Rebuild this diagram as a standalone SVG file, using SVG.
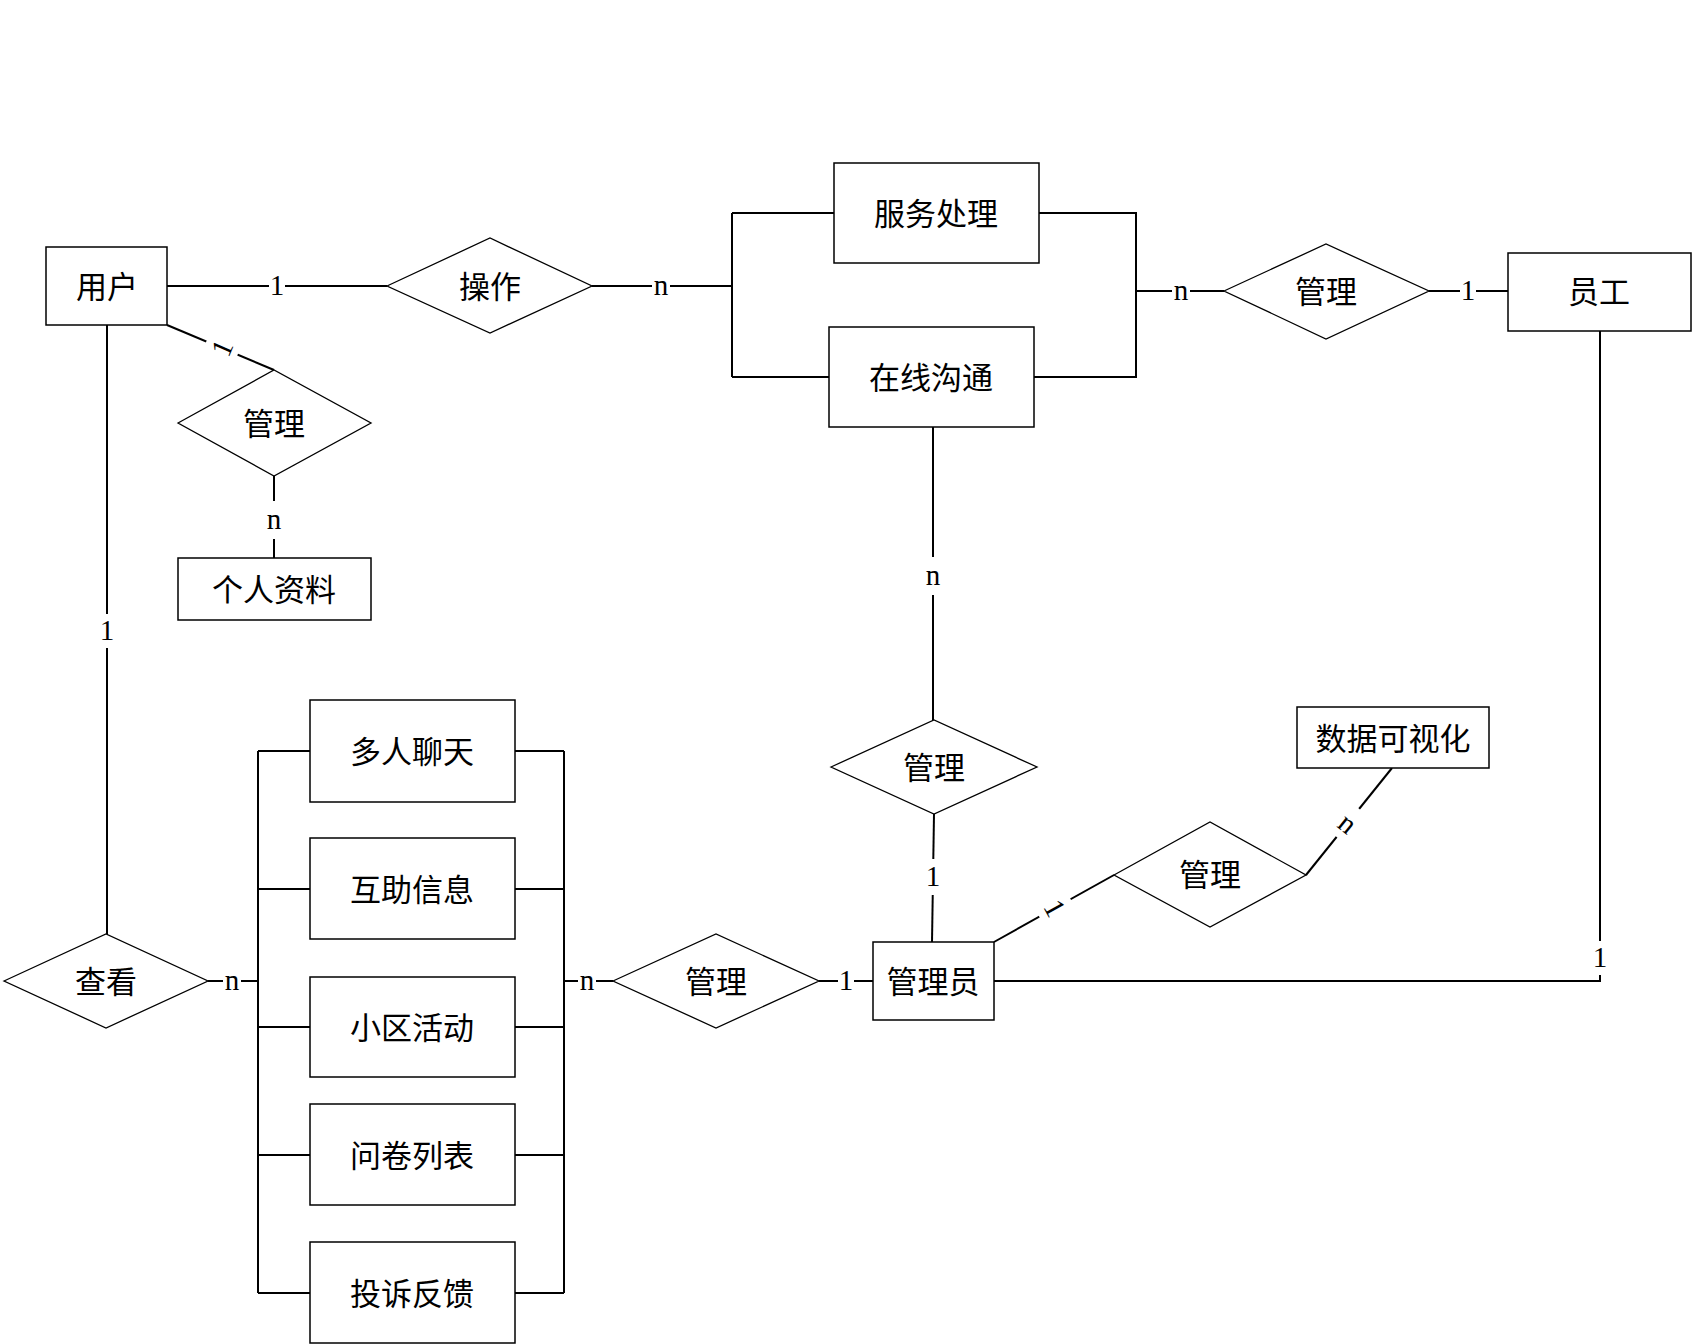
<svg xmlns="http://www.w3.org/2000/svg" width="1692" height="1344" viewBox="0 0 1692 1344">
<style>
.box{fill:#fff;stroke:#000;stroke-width:1.5}
.rel{fill:#fff;stroke:#000;stroke-width:1.3}
.ln{fill:none;stroke:#000;stroke-width:2}
.t{font-family:"Noto Sans CJK SC","Noto Sans CJK TC",sans-serif;font-size:31px;text-anchor:middle;dominant-baseline:central;fill:#000}
.c{font-family:"Liberation Serif",serif;font-size:29px;text-anchor:middle;dominant-baseline:central;fill:#000}
.bg{fill:#fff}
</style>
<rect width="1692" height="1344" fill="#fff"/>
<g id="connectors">
<path class="ln" d="M167,286 H387"/>
<path class="ln" d="M592,286 H732"/>
<path class="ln" d="M732,213 V377 M732,213 H834 M732,377 H829"/>
<path class="ln" d="M1039,213 H1136 V377 H1034"/>
<path class="ln" d="M1136,291 H1224"/>
<path class="ln" d="M1429,291 H1508"/>
<path class="ln" d="M167,325 L274,370"/>
<path class="ln" d="M274,476 V558"/>
<path class="ln" d="M107,325 V934"/>
<path class="ln" d="M933,427 V720"/>
<path class="ln" d="M934,814 L932,942"/>
<path class="ln" d="M994,981 H1600 V331"/>
<path class="ln" d="M994,942 L1114,875"/>
<path class="ln" d="M1306,875 L1392,768"/>
<path class="ln" d="M208,981 H258"/>
<path class="ln" d="M258,751 V1293 M258,751 H310 M258,889 H310 M258,1027 H310 M258,1155 H310 M258,1293 H310"/>
<path class="ln" d="M564,751 V1293 M515,751 H564 M515,889 H564 M515,1027 H564 M515,1155 H564 M515,1293 H564"/>
<path class="ln" d="M564,981 H613"/>
<path class="ln" d="M819,981 H873"/>
<g transform="translate(277,286)"><rect class="bg" x="-8" y="-18" width="16" height="36"/><text class="c" y="-1">1</text></g>
<g transform="translate(661,286)"><rect class="bg" x="-9" y="-18" width="18" height="36"/><text class="c" y="-1">n</text></g>
<g transform="translate(222,348) rotate(-67)"><rect class="bg" x="-9" y="-17" width="18" height="34"/><text class="c">1</text></g>
<g transform="translate(274,520)"><rect class="bg" x="-10" y="-19" width="20" height="38"/><text class="c" y="-1">n</text></g>
<g transform="translate(107,631)"><rect class="bg" x="-10" y="-17" width="20" height="34"/><text class="c" y="-1">1</text></g>
<g transform="translate(1181,291)"><rect class="bg" x="-9" y="-18" width="18" height="36"/><text class="c" y="-1">n</text></g>
<g transform="translate(1468,291)"><rect class="bg" x="-8" y="-18" width="16" height="36"/><text class="c" y="-1">1</text></g>
<g transform="translate(933,576)"><rect class="bg" x="-10" y="-19" width="20" height="38"/><text class="c" y="-1">n</text></g>
<g transform="translate(933,877)"><rect class="bg" x="-10" y="-18" width="20" height="36"/><text class="c" y="-1">1</text></g>
<g transform="translate(232,981)"><rect class="bg" x="-9" y="-18" width="18" height="36"/><text class="c" y="-1">n</text></g>
<g transform="translate(587,981)"><rect class="bg" x="-9" y="-18" width="18" height="36"/><text class="c" y="-1">n</text></g>
<g transform="translate(846,981)"><rect class="bg" x="-8" y="-18" width="16" height="36"/><text class="c" y="-1">1</text></g>
<g transform="translate(1055,908) rotate(61)"><rect class="bg" x="-9" y="-18" width="18" height="36"/><text class="c">1</text></g>
<g transform="translate(1348,823) rotate(39)"><rect class="bg" x="-9" y="-18" width="18" height="36"/><text class="c">n</text></g>
<g transform="translate(1600,958)"><rect class="bg" x="-10" y="-17" width="20" height="34"/><text class="c" y="-1">1</text></g>
</g>
<g id="n-yonghu"><rect class="box" x="46" y="247" width="121" height="78"/><text class="t" x="107" y="284">用户</text></g>
<g id="r-caozuo"><polygon class="rel" points="387,286 490,238 592,286 490,333"/><text class="t" x="490" y="284">操作</text></g>
<g id="r-guanli-user"><polygon class="rel" points="178,423 274,370 371,423 274,476"/><text class="t" x="274" y="421">管理</text></g>
<g id="n-gerenziliao"><rect class="box" x="178" y="558" width="193" height="62"/><text class="t" x="274" y="587">个人资料</text></g>
<g id="n-fuwuchuli"><rect class="box" x="834" y="163" width="205" height="100"/><text class="t" x="936" y="211">服务处理</text></g>
<g id="n-zaixiangoutong"><rect class="box" x="829" y="327" width="205" height="100"/><text class="t" x="931" y="375">在线沟通</text></g>
<g id="r-guanli-yuangong"><polygon class="rel" points="1224,291 1326,244 1429,291 1326,339"/><text class="t" x="1326" y="289">管理</text></g>
<g id="n-yuangong"><rect class="box" x="1508" y="253" width="183" height="78"/><text class="t" x="1599" y="289">员工</text></g>
<g id="r-guanli-goutong"><polygon class="rel" points="831,767 934,720 1037,767 934,814"/><text class="t" x="934" y="765">管理</text></g>
<g id="n-guanliyuan"><rect class="box" x="873" y="942" width="121" height="78"/><text class="t" x="933" y="979">管理员</text></g>
<g id="r-guanli-shuju"><polygon class="rel" points="1114,875 1210,822 1306,875 1210,927"/><text class="t" x="1210" y="872">管理</text></g>
<g id="n-shujukeshihua"><rect class="box" x="1297" y="707" width="192" height="61"/><text class="t" x="1393" y="736">数据可视化</text></g>
<g id="r-chakan"><polygon class="rel" points="4,981 106,934 208,981 106,1028"/><text class="t" x="106" y="979">查看</text></g>
<g id="r-guanli-bottom"><polygon class="rel" points="613,981 716,934 819,981 716,1028"/><text class="t" x="716" y="979">管理</text></g>
<g id="n-duorenliaotian"><rect class="box" x="310" y="700" width="205" height="102"/><text class="t" x="412" y="749">多人聊天</text></g>
<g id="n-huzhuxinxi"><rect class="box" x="310" y="838" width="205" height="101"/><text class="t" x="412" y="887">互助信息</text></g>
<g id="n-xiaoquhuodong"><rect class="box" x="310" y="977" width="205" height="100"/><text class="t" x="412" y="1025">小区活动</text></g>
<g id="n-wenjuanliebiao"><rect class="box" x="310" y="1104" width="205" height="101"/><text class="t" x="412" y="1153">问卷列表</text></g>
<g id="n-tousufankui"><rect class="box" x="310" y="1242" width="205" height="101"/><text class="t" x="412" y="1291">投诉反馈</text></g>
</svg>
